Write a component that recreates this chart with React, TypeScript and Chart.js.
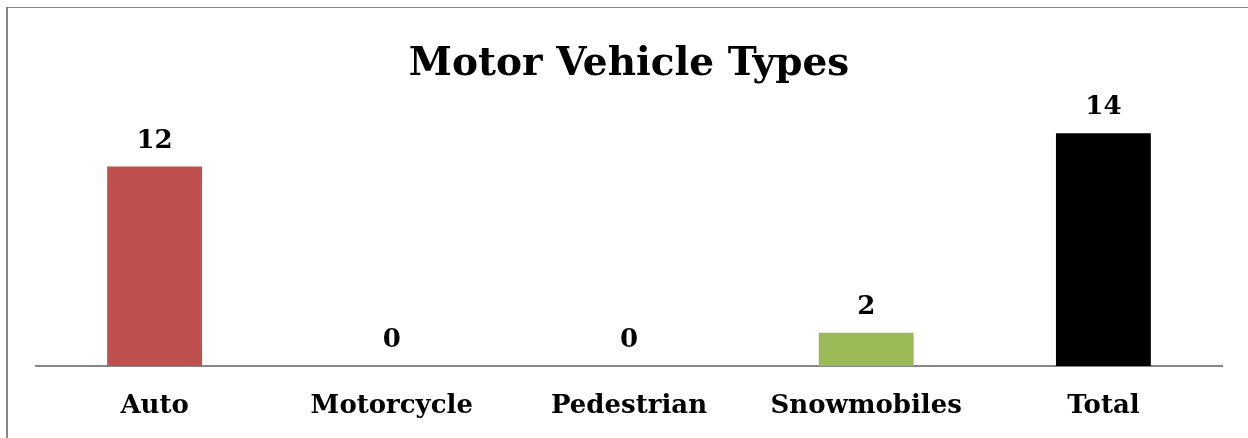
import React, { useEffect, useRef } from "react";
import { Chart, registerables } from "chart.js";

Chart.register(...registerables);

const categories = ["Auto", "Motorcycle", "Pedestrian", "Snowmobiles", "Total"];
const values = [12, 0, 0, 2, 14];
const barColors = ["#C0504D", "#4F81BD", "#8064A2", "#9BBB59", "#000000"];
const titleText = "Motor Vehicle Types";
const yMax = 16;

const FONT = "'DejaVu Serif', serif";

const valueLabels = {
  id: "valueLabels",
  afterDatasetsDraw(chart: any) {
    const ctx = chart.ctx;
    const meta = chart.getDatasetMeta(0);
    ctx.save();
    ctx.font = `bold 26px ${FONT}`;
    ctx.fillStyle = "#000";
    ctx.textAlign = "center";
    ctx.textBaseline = "alphabetic";
    meta.data.forEach((el: any, i: number) => {
      const v = chart.data.datasets[0].data[i];
      ctx.fillText(String(v), el.x, el.y - 19);
    });
    ctx.restore();
  },
};

export default function App() {
  const ref = useRef<HTMLCanvasElement | null>(null);
  useEffect(() => {
    document.body.style.margin = "0";
    const chart = new Chart(ref.current as HTMLCanvasElement, {
      type: "bar",
      data: {
        labels: categories,
        datasets: [
          {
            data: values,
            backgroundColor: barColors,
            barPercentage: 0.4,
            categoryPercentage: 1.0,
          },
        ],
      },
      options: {
        responsive: false,
        animation: false,
        layout: { padding: { left: 36, right: 26, top: 0, bottom: 16 } },
        plugins: {
          legend: { display: false },
          tooltip: { enabled: false },
          title: {
            display: true,
            text: titleText,
            color: "#000",
            font: { family: FONT, size: 39, weight: "bold", lineHeight: 1.2 },
            padding: { top: 41, bottom: 12.2 },
          },
        },
        scales: {
          x: {
            grid: { display: false, drawTicks: false },
            border: { display: true, color: "#878787", width: 2 },
            ticks: {
              color: "#000",
              padding: 25,
              font: { family: FONT, size: 26, weight: "bold", lineHeight: 1.2 },
            },
            afterFit: (scale: any) => {
              scale.height = 56;
            },
          },
          y: {
            display: false,
            min: 0,
            max: yMax,
          },
        },
      },
      plugins: [valueLabels],
    });
    return () => chart.destroy();
  }, []);

  return (
    <div style={{ position: "relative", width: 1248, height: 438, overflow: "hidden", background: "#fff" }}>
      <canvas ref={ref} width={1248} height={438} style={{ position: "absolute", left: 0, top: 0 }} />
      <div
        style={{
          position: "absolute",
          left: 6,
          top: 7,
          width: 1400,
          height: 600,
          borderLeft: "2px solid #878787",
          borderTop: "1px solid #878787",
          pointerEvents: "none",
        }}
      />
    </div>
  );
}
